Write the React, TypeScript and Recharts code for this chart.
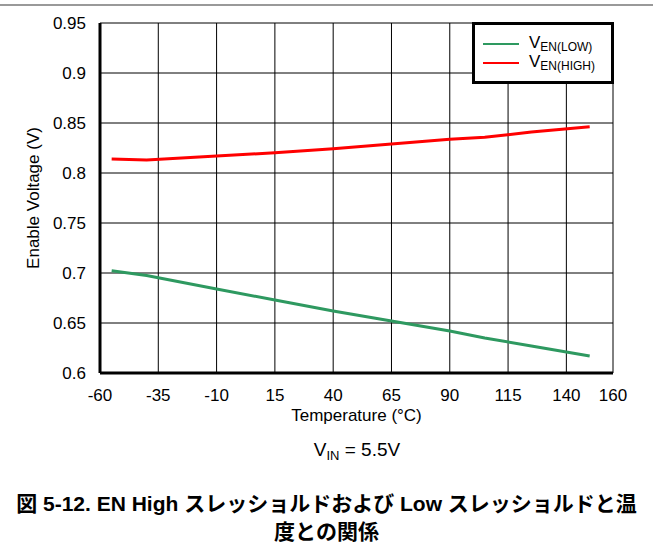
import {
  LineChart,
  Line,
  XAxis,
  YAxis,
  CartesianGrid,
  Label,
} from 'recharts';

const temps = [-55, -40, -10, 15, 40, 65, 90, 105, 125, 150];
const vEnLow = [0.7023, 0.6975, 0.684, 0.673, 0.662, 0.652, 0.642, 0.635, 0.627, 0.617];
const vEnHigh = [0.814, 0.813, 0.817, 0.8203, 0.8243, 0.829, 0.8337, 0.8357, 0.841, 0.8463];

const xTicks = [-60, -35, -10, 15, 40, 65, 90, 115, 140, 160];
const yTicks = [0.6, 0.65, 0.7, 0.75, 0.8, 0.85, 0.9, 0.95];

const data = temps.map((t, i) => ({ t, low: vEnLow[i], high: vEnHigh[i] }));

const FONT = '"Liberation Sans", Arial, sans-serif';
const GREEN = '#2e9960';
const RED = '#ff0000';

function LegendBox() {
  const row = (color: string, sub: string) => (
    <div style={{ display: 'flex', alignItems: 'center', height: 19 }}>
      <div style={{ width: 36, height: 2, background: color, marginRight: 10 }} />
      <span style={{ fontSize: 17, color: '#000' }}>
        V<sub style={{ fontSize: 12, verticalAlign: -3 }}>{sub}</sub>
      </span>
    </div>
  );
  return (
    <div
      style={{
        position: 'absolute',
        left: 472,
        top: 22,
        width: 142,
        height: 62,
        border: '3px solid #000',
        background: '#fff',
        fontFamily: FONT,
        display: 'flex',
        flexDirection: 'column',
        justifyContent: 'center',
        paddingLeft: 8,
        boxSizing: 'border-box',
      }}
    >
      {row(GREEN, 'EN(LOW)')}
      {row(RED, 'EN(HIGH)')}
    </div>
  );
}

export default function App() {
  return (
    <div
      style={{
        position: 'absolute',
        left: 0,
        top: 0,
        width: 653,
        height: 551,
        background: '#fff',
        fontFamily: FONT,
      }}
    >
      <div style={{ position: 'absolute', left: 0, top: 4, width: 653, height: 2, background: '#999' }} />
      <LineChart
        width={653}
        height={430}
        data={data}
        margin={{ top: 23, right: 40, left: 0, bottom: 0 }}
      >
        <CartesianGrid stroke="#000" strokeWidth={1} horizontalValues={yTicks} verticalValues={xTicks} />
        <XAxis
          dataKey="t"
          type="number"
          domain={[-60, 160]}
          ticks={xTicks}
          interval={0}
          tickLine={false}
          axisLine={{ stroke: '#000', strokeWidth: 3 }}
          tick={{ fill: '#000', fontSize: 17, fontFamily: FONT }}
          tickMargin={10}
          height={57}
        >
          <Label value="Temperature (°C)" position="insideBottom" offset={9} style={{ fill: '#000', fontSize: 17, fontFamily: FONT }} />
        </XAxis>
        <XAxis xAxisId="top" orientation="top" dataKey="t" type="number" domain={[-60, 160]} height={0} tick={false} tickLine={false} axisLine={{ stroke: '#000', strokeWidth: 3 }} />
        <YAxis
          type="number"
          domain={[0.6, 0.95]}
          ticks={yTicks}
          interval={0}
          width={100}
          tickLine={false}
          axisLine={{ stroke: '#000', strokeWidth: 3 }}
          tick={{ fill: '#000', fontSize: 17, fontFamily: FONT }}
          tickMargin={8}
        >
          <Label value="Enable Voltage (V)" angle={-90} position="insideLeft" offset={33} style={{ fill: '#000', fontSize: 17, fontFamily: FONT, textAnchor: 'middle' }} />
        </YAxis>
        <YAxis yAxisId="right" orientation="right" domain={[0.6, 0.95]} width={0} tick={false} tickLine={false} axisLine={{ stroke: '#000', strokeWidth: 3 }} />
        <Line dataKey="low" stroke={GREEN} strokeWidth={3} dot={false} isAnimationActive={false} />
        <Line dataKey="high" stroke={RED} strokeWidth={3} dot={false} isAnimationActive={false} />
      </LineChart>
      <LegendBox />
      <div style={{ position: 'absolute', left: 0, top: 439, width: 714, textAlign: 'center', fontSize: 19 }}>
        V<sub style={{ fontSize: 13, verticalAlign: -4 }}>IN</sub> = 5.5V
      </div>
      <div
        style={{
          position: 'absolute',
          left: 0,
          top: 490,
          width: 653,
          textAlign: 'center',
          fontSize: 21,
          fontWeight: 'bold',
          lineHeight: '28px',
          fontFamily: '"Liberation Sans", "Noto Sans CJK JP", sans-serif',
          color: '#000',
          whiteSpace: 'nowrap',
        }}
      >
        図 5-12. EN High スレッショルドおよび Low スレッショルドと温
        <br />
        度との関係
      </div>
    </div>
  );
}
